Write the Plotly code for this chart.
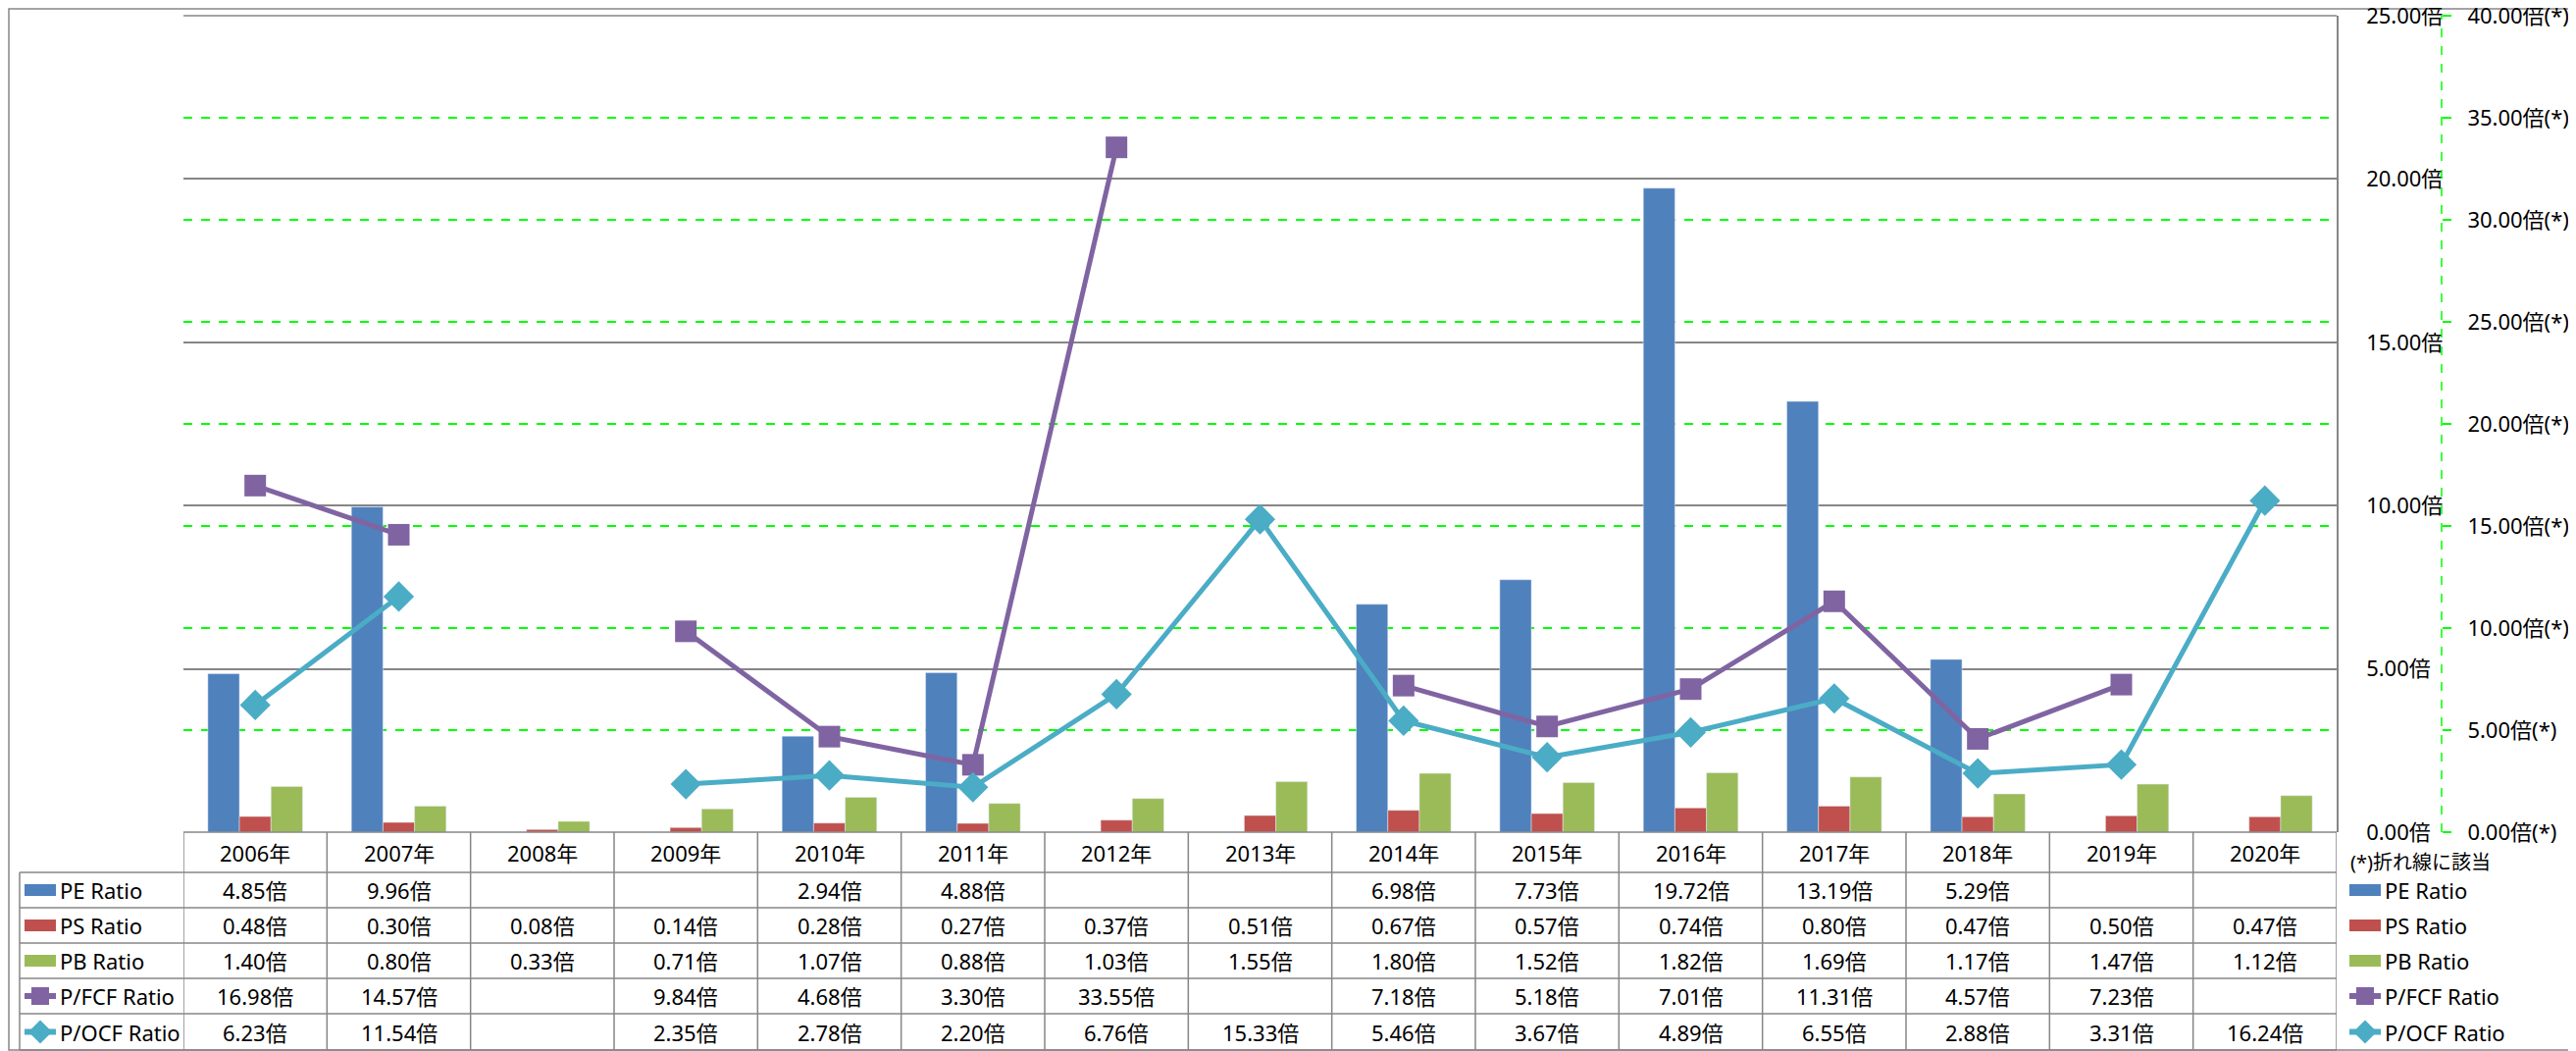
import plotly.graph_objects as go

# data
years = ["2006年", "2007年", "2008年", "2009年", "2010年", "2011年", "2012年", "2013年",
         "2014年", "2015年", "2016年", "2017年", "2018年", "2019年", "2020年"]
pe_ratio = [4.85, 9.96, None, None, 2.94, 4.88, None, None, 6.98, 7.73, 19.72, 13.19, 5.29, None, None]
ps_ratio = [0.48, 0.30, 0.08, 0.14, 0.28, 0.27, 0.37, 0.51, 0.67, 0.57, 0.74, 0.80, 0.47, 0.50, 0.47]
pb_ratio = [1.40, 0.80, 0.33, 0.71, 1.07, 0.88, 1.03, 1.55, 1.80, 1.52, 1.82, 1.69, 1.17, 1.47, 1.12]
pfcf_ratio = [16.98, 14.57, None, 9.84, 4.68, 3.30, 33.55, None, 7.18, 5.18, 7.01, 11.31, 4.57, 7.23, None]
pocf_ratio = [6.23, 11.54, None, 2.35, 2.78, 2.20, 6.76, 15.33, 5.46, 3.67, 4.89, 6.55, 2.88, 3.31, 16.24]

primary_ticks = [0, 5, 10, 15, 20, 25]
secondary_ticks = [0, 5, 10, 15, 20, 25, 30, 35, 40]
note_text = "(*)折れ線に該当"

# colors
c_pe = '#4F81BD'
c_ps = '#C0504D'
c_pb = '#9BBB59'
c_fcf = '#8064A2'
c_ocf = '#4BACC6'
c_grid = '#868686'
c_green = '#00FF00'
FONT = "Noto Sans, Noto Sans CJK JP"
FS = 22

# geometry, in pixels of the reference picture (page has an 8px body margin)
OFF = 8
W, H = 2626 - OFF, 1071 - OFF
PLOT_LEFT, PLOT_TOP, PLOT_BOTTOM = 187, 16, 848
PAPER_RIGHT = 2600
PLOT_RIGHT = 2382
Y2_AXIS = 2489
ROW_EDGES = [848, 889, 925, 961, 997, 1033, 1070]

L = PLOT_LEFT - OFF
T = PLOT_TOP - OFF
B = H - (PLOT_BOTTOM - OFF)
R = W - (PAPER_RIGHT - OFF)
PW = PAPER_RIGHT - PLOT_LEFT
PH = PLOT_BOTTOM - PLOT_TOP


def px(x):
    return (x - PLOT_LEFT) / PW


def py(y):
    return (PLOT_BOTTOM - y) / PH


def label(x, y, text, xref='paper', xanchor='center', size=FS):
    return dict(x=x, y=py(y), xref=xref, yref='paper', text=text, showarrow=False,
                xanchor=xanchor, yanchor='middle', font=dict(size=size, color='black', family=FONT))


fig = go.Figure()

fig.add_trace(go.Bar(x=years, y=pe_ratio, name="PE Ratio", marker_color=c_pe))
fig.add_trace(go.Bar(x=years, y=ps_ratio, name="PS Ratio", marker_color=c_ps))
fig.add_trace(go.Bar(x=years, y=pb_ratio, name="PB Ratio", marker_color=c_pb))

fig.add_trace(go.Scatter(x=years, y=pfcf_ratio, name="P/FCF Ratio", yaxis='y2', mode='lines+markers',
                         line=dict(color=c_fcf, width=5),
                         marker=dict(symbol='square', size=22, color=c_fcf)))
fig.add_trace(go.Scatter(x=years, y=pocf_ratio, name="P/OCF Ratio", yaxis='y2', mode='lines+markers',
                         line=dict(color=c_ocf, width=5),
                         marker=dict(symbol='diamond', size=24, color=c_ocf)))

shapes = []
annotations = []

# outer chart border
shapes.append(dict(type='rect', xref='paper', yref='paper', x0=px(OFF + 1), x1=px(2625), y0=py(OFF + 1),
                   y1=py(1070), line=dict(color=c_grid, width=1.5), layer='below'))

# dashed secondary axis line
shapes.append(dict(type='line', xref='paper', yref='paper', x0=px(Y2_AXIS), x1=px(Y2_AXIS), y0=0, y1=1,
                   line=dict(color=c_green, width=1.5, dash='dash')))

# top border of plot area
shapes.append(dict(type='line', xref='paper', yref='paper', x0=0, x1=px(PLOT_RIGHT), y0=1, y1=1,
                   line=dict(color=c_grid, width=1.5)))

# data table grid
for i, ye in enumerate(ROW_EDGES):
    x_start = 0 if i == 0 else px(20)
    shapes.append(dict(type='line', xref='paper', yref='paper', x0=x_start, x1=px(PLOT_RIGHT),
                       y0=py(ye), y1=py(ye), line=dict(color=c_grid, width=1.5)))
for k in range(len(years) + 1):
    shapes.append(dict(type='line', xref='x', yref='paper', x0=k - 0.5, x1=k - 0.5,
                       y0=py(ROW_EDGES[0]), y1=py(ROW_EDGES[-1]), line=dict(color=c_grid, width=1.5)))
shapes.append(dict(type='line', xref='paper', yref='paper', x0=px(20), x1=px(20),
                   y0=py(ROW_EDGES[1]), y1=py(ROW_EDGES[-1]), line=dict(color=c_grid, width=1.5)))

# header row
hc = (ROW_EDGES[0] + ROW_EDGES[1]) / 2
for yr in years:
    annotations.append(label(yr, hc, yr, xref='x'))

series = [
    ("PE Ratio", pe_ratio, c_pe, 'bar'),
    ("PS Ratio", ps_ratio, c_ps, 'bar'),
    ("PB Ratio", pb_ratio, c_pb, 'bar'),
    ("P/FCF Ratio", pfcf_ratio, c_fcf, 'square'),
    ("P/OCF Ratio", pocf_ratio, c_ocf, 'diamond'),
]


def legend_key(x0, yc, color, kind):
    # legend key starting at pixel x0, centred on pixel yc
    if kind == 'bar':
        shapes.append(dict(type='rect', xref='paper', yref='paper', x0=px(x0), x1=px(x0 + 32),
                           y0=py(yc - 6), y1=py(yc + 6), fillcolor=color, line=dict(width=0)))
        return
    shapes.append(dict(type='line', xref='paper', yref='paper', x0=px(x0), x1=px(x0 + 32),
                       y0=py(yc), y1=py(yc), line=dict(color=color, width=6)))
    xc = x0 + 16
    if kind == 'square':
        r = 9
        shapes.append(dict(type='rect', xref='paper', yref='paper', x0=px(xc - r), x1=px(xc + r),
                           y0=py(yc - r), y1=py(yc + r), fillcolor=color, line=dict(width=0)))
    else:
        r = 12
        path = (f"M{px(xc)},{py(yc - r)} L{px(xc + r)},{py(yc)} "
                f"L{px(xc)},{py(yc + r)} L{px(xc - r)},{py(yc)} Z")
        shapes.append(dict(type='path', xref='paper', yref='paper', path=path,
                           fillcolor=color, line=dict(width=0)))


for j, (name, vals, color, kind) in enumerate(series):
    yc = (ROW_EDGES[j + 1] + ROW_EDGES[j + 2]) / 2
    # left column of the table
    legend_key(25, yc, color, kind)
    annotations.append(label(px(59), yc, name, xanchor='left'))
    # right hand legend
    legend_key(2395, yc, color, kind)
    annotations.append(label(px(2429), yc, name, xanchor='left'))
    for yr, v in zip(years, vals):
        if v is None:
            continue
        annotations.append(label(yr, yc, f"{v:.2f}倍", xref='x'))

annotations.append(label(px(2394), 878, note_text, xanchor='left', size=20))

fig.update_layout(
    width=W, height=H,
    margin=dict(l=L, r=R, t=T, b=B, pad=0, autoexpand=False),
    paper_bgcolor='white',
    plot_bgcolor='white',
    barmode='group',
    bargap=0.34,
    bargroupgap=0,
    showlegend=False,
    font=dict(family=FONT, size=FS, color='black'),
    xaxis=dict(domain=[0, px(PLOT_RIGHT)], range=[-0.5, len(years) - 0.5], showticklabels=False,
               showgrid=False, zeroline=False, showline=False, ticks='', automargin=False),
    yaxis=dict(side='right', range=[0, 25], tickvals=primary_ticks,
               ticktext=[f"{v:.2f}倍" for v in primary_ticks],
               showgrid=True, gridcolor=c_grid, gridwidth=1.5, zeroline=False,
               showline=True, linecolor=c_grid, linewidth=1.5, ticks='', ticklabelstandoff=24,
               ticklabeloverflow='allow', automargin=False,
               tickfont=dict(size=FS, family=FONT, color='black')),
    yaxis2=dict(overlaying='y', side='right', anchor='free', position=px(Y2_AXIS), range=[0, 40],
                tickvals=secondary_ticks, ticktext=[f"{v:.2f}倍(*)" for v in secondary_ticks],
                showgrid=True, gridcolor=c_green, gridwidth=1.5, griddash='dash', zeroline=False,
                showline=False, ticks='outside', ticklen=9, tickcolor=c_green, tickwidth=1.5,
                ticklabelstandoff=12, ticklabeloverflow='allow', automargin=False,
                tickfont=dict(size=FS, family=FONT, color='black')),
    shapes=shapes,
    annotations=annotations,
)

fig.write_html("out.html")
